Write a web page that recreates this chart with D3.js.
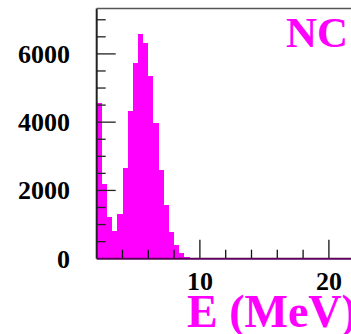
<!DOCTYPE html>
<html>
<head>
<meta charset="utf-8">
<script src="https://cdn.jsdelivr.net/npm/d3@7/dist/d3.min.js"></script>
<style>
  html, body { margin: 0; padding: 0; background: #fff; }
  svg { display: block; }
  text { font-family: "Liberation Serif", "Times New Roman", serif; font-weight: bold; }
</style>
</head>
<body>
<svg id="chart" width="351" height="334"></svg>
<script>
// Energy spectrum, NC channel: low edge of each 0.4 MeV bin and its count
const binLow = [2.0, 2.4, 2.8, 3.2, 3.6, 4.0, 4.4, 4.8, 5.2, 5.6,
                6.0, 6.4, 6.8, 7.2, 7.6, 8.0, 8.4, 8.8, 9.2, 9.6];
const counts = [4560, 2180, 1230, 820, 1310, 2650, 4340, 5730, 6590, 6310,
                5350, 3980, 2590, 1570, 790, 400, 175, 58, 30, 10];
const binWidth = 0.4;

const xTickLabels = [10, 20];
const yTickLabels = [0, 2000, 4000, 6000];
const xMinorTicks = [4, 6, 8, 10, 12, 14, 16, 18, 20];
const yMinorTicks = [500, 1000, 1500, 2000, 2500, 3000, 3500, 4000, 4500, 5000, 5500, 6000, 6500, 7000];

const svg = d3.select("#chart");
const padLeft = 96.7, padTop = 8.5, padBottom = 258.7;

const x = d3.scaleLinear().domain([2, 22]).range([padLeft, 354.7]);
const y = d3.scaleLinear().domain([0, 7330]).range([padBottom, padTop]);

const magenta = "#ff00ff";

// histogram bars
svg.append("g").selectAll("rect")
  .data(binLow)
  .join("rect")
  .attr("x", (d) => x(d))
  .attr("width", (d) => x(d + binWidth) - x(d))
  .attr("y", (d, i) => y(counts[i]))
  .attr("height", (d, i) => y(0) - y(counts[i]))
  .attr("fill", magenta)
  .attr("shape-rendering", "crispEdges");

// frame: left and top edges
svg.append("line").attr("x1", padLeft).attr("x2", padLeft).attr("y1", padTop).attr("y2", padBottom)
  .attr("stroke", "#222").attr("stroke-width", 2);
svg.append("line").attr("x1", padLeft).attr("x2", 351).attr("y1", padTop).attr("y2", padTop)
  .attr("stroke", "#555").attr("stroke-width", 1.6);

// x ticks (major at labelled values, minor every 2 MeV)
svg.append("g").selectAll("line")
  .data(xMinorTicks)
  .join("line")
  .attr("x1", (d) => x(d)).attr("x2", (d) => x(d))
  .attr("y1", padBottom)
  .attr("y2", (d) => padBottom - (xTickLabels.includes(d) ? 19 : 9))
  .attr("stroke", "#111").attr("stroke-width", 1.3);

// y ticks (major every 2000, minor every 500)
svg.append("g").selectAll("line")
  .data(yMinorTicks)
  .join("line")
  .attr("y1", (d) => y(d)).attr("y2", (d) => y(d))
  .attr("x1", padLeft)
  .attr("x2", (d) => padLeft + (yTickLabels.includes(d) ? 19 : 9))
  .attr("stroke", "#222").attr("stroke-width", 1.3);

// bottom axis line, with the histogram outline along zero
svg.append("line").attr("x1", padLeft).attr("x2", 351).attr("y1", padBottom).attr("y2", padBottom)
  .attr("stroke", "#5a005a").attr("stroke-width", 2);

// tick labels
svg.append("g").selectAll("text")
  .data(xTickLabels)
  .join("text")
  .attr("x", (d) => x(d))
  .attr("y", 290)
  .attr("text-anchor", "middle")
  .attr("font-size", 26)
  .attr("fill", "#000")
  .text((d) => d);

svg.append("g").selectAll("text")
  .data(yTickLabels)
  .join("text")
  .attr("x", 70)
  .attr("y", (d) => y(d) + 9)
  .attr("text-anchor", "end")
  .attr("font-size", 26)
  .attr("fill", "#000")
  .text((d) => d);

// channel label and axis title
svg.append("text").attr("x", 286).attr("y", 47)
  .attr("font-size", 43).attr("fill", magenta).text("NC");

svg.append("text").attr("x", 187).attr("y", 327)
  .attr("font-size", 46).attr("fill", magenta).text("E (MeV)");
</script>
</body>
</html>
